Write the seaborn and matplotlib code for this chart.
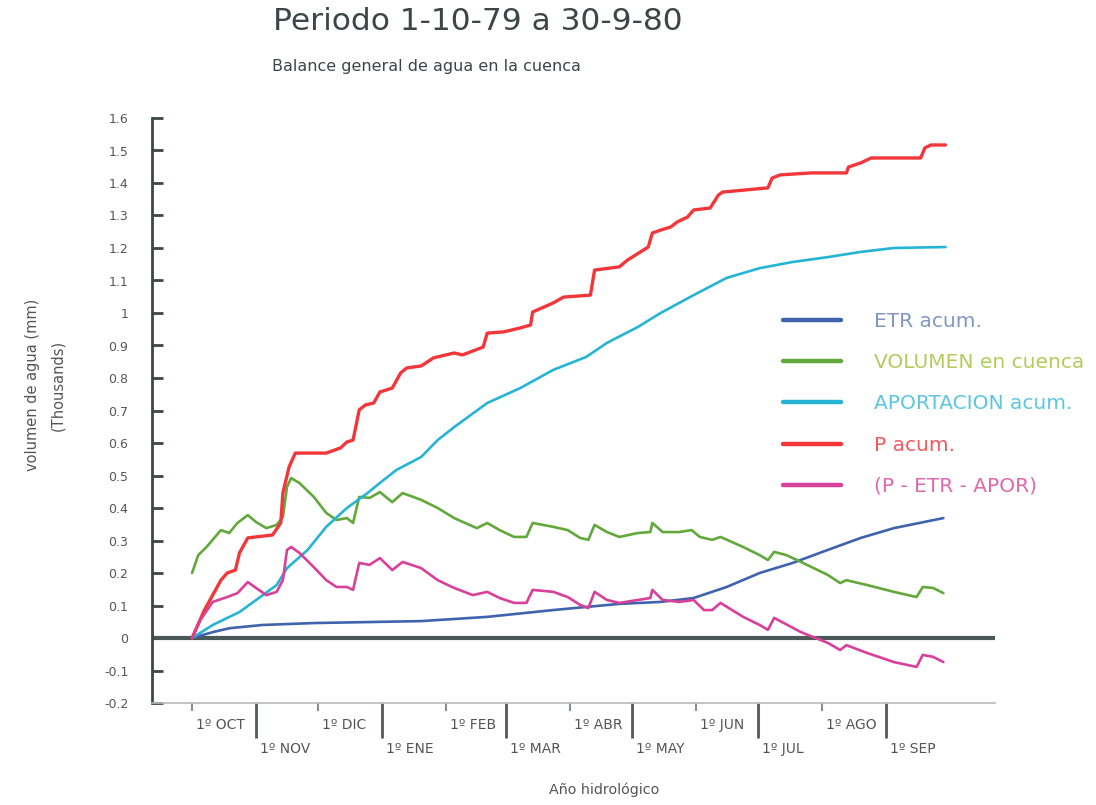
import pandas as pd
import matplotlib
matplotlib.use("Agg")
import matplotlib.pyplot as plt
import matplotlib.dates as mdates
import matplotlib.transforms as mtransforms
import seaborn as sns

sns.set_style("white")
plt.rcParams["font.family"] = ["DejaVu Sans"]

start = pd.Timestamp("1979-10-01")

# days counted from 1-10-79, values in thousands of mm
etr_days = [0, 10, 18, 34, 59, 111, 143, 175, 207, 227, 243, 259, 275, 291, 308, 324, 340, 364]
etr_vals = [0, 0.018, 0.030, 0.040, 0.046, 0.052, 0.065, 0.086, 0.105, 0.111, 0.123, 0.157,
            0.200, 0.231, 0.271, 0.308, 0.338, 0.369]

vol_days = [0, 3, 7, 14, 18, 22, 27, 31, 36, 41, 44, 46, 48, 52, 59, 65, 70, 75, 78, 81,
            86, 91, 97, 102, 111, 119, 127, 138, 143, 149, 156, 162, 165, 175, 182, 188, 192,
            195, 201, 207, 216, 222, 223, 228, 236, 242, 246, 252, 256, 267, 275, 279, 282,
            288, 295, 308, 314, 317, 327, 340, 351, 354, 359, 364]
vol_vals = [0.200, 0.255, 0.280, 0.332, 0.323, 0.354, 0.378, 0.357, 0.338, 0.348, 0.372,
            0.465, 0.492, 0.477, 0.434, 0.385, 0.363, 0.369, 0.354, 0.434, 0.431, 0.449,
            0.418, 0.446, 0.425, 0.400, 0.369, 0.338, 0.354, 0.332, 0.311, 0.311, 0.354,
            0.342, 0.332, 0.308, 0.302, 0.348, 0.326, 0.311, 0.323, 0.326, 0.354, 0.326,
            0.326, 0.332, 0.311, 0.302, 0.311, 0.280, 0.255, 0.240, 0.265, 0.255, 0.234,
            0.194, 0.169, 0.178, 0.163, 0.142, 0.126, 0.157, 0.154, 0.138]

apor_days = [0, 10, 23, 33, 41, 46, 56, 65, 75, 85, 91, 99, 111, 119, 127, 143, 159, 175,
             191, 201, 216, 227, 243, 259, 275, 291, 308, 324, 340, 365]
apor_vals = [0, 0.040, 0.080, 0.126, 0.163, 0.215, 0.271, 0.342, 0.400, 0.446, 0.477, 0.517,
             0.557, 0.609, 0.649, 0.723, 0.769, 0.825, 0.865, 0.908, 0.957, 1.000, 1.055,
             1.108, 1.138, 1.157, 1.172, 1.188, 1.200, 1.203]

p_days = [0, 6, 14, 17, 21, 23, 27, 31, 39, 43, 44, 47, 50, 65, 72, 75, 78, 81, 84, 88, 91,
          97, 101, 104, 111, 117, 127, 131, 141, 143, 151, 159, 164, 165, 175, 180, 193, 195,
          207, 211, 221, 223, 227, 232, 235, 240, 243, 251, 255, 257, 267, 279, 281, 285, 300,
          317, 318, 324, 329, 353, 355, 358, 365]
p_vals = [0, 0.086, 0.178, 0.200, 0.209, 0.262, 0.308, 0.311, 0.317, 0.354, 0.446, 0.526,
          0.569, 0.569, 0.585, 0.603, 0.609, 0.702, 0.717, 0.723, 0.757, 0.769, 0.815, 0.831,
          0.837, 0.862, 0.877, 0.871, 0.895, 0.938, 0.942, 0.954, 0.963, 1.003, 1.031, 1.049,
          1.055, 1.132, 1.142, 1.163, 1.203, 1.246, 1.255, 1.265, 1.280, 1.295, 1.317, 1.323,
          1.363, 1.372, 1.378, 1.385, 1.415, 1.425, 1.431, 1.431, 1.449, 1.462, 1.477, 1.477,
          1.508, 1.517, 1.517]

bal_days = [0, 4, 10, 17, 22, 27, 31, 36, 41, 44, 46, 48, 52, 59, 65, 70, 75, 78, 81, 86,
            91, 97, 102, 111, 119, 127, 136, 143, 149, 156, 162, 165, 175, 182, 188, 192, 195,
            201, 207, 216, 222, 223, 228, 236, 243, 248, 252, 256, 267, 275, 279, 282, 295,
            308, 314, 317, 327, 340, 351, 354, 359, 364]
bal_vals = [0, 0.055, 0.111, 0.126, 0.138, 0.172, 0.154, 0.132, 0.142, 0.178, 0.271, 0.280,
            0.262, 0.218, 0.178, 0.157, 0.157, 0.148, 0.231, 0.225, 0.246, 0.209, 0.234,
            0.215, 0.178, 0.154, 0.132, 0.142, 0.123, 0.108, 0.108, 0.148, 0.142, 0.126,
            0.102, 0.092, 0.142, 0.117, 0.108, 0.117, 0.123, 0.148, 0.117, 0.111, 0.117,
            0.086, 0.086, 0.108, 0.065, 0.040, 0.025, 0.062, 0.018, -0.015, -0.037, -0.022,
            -0.046, -0.074, -0.089, -0.052, -0.058, -0.074]

names = ["ETR acum.", "VOLUMEN en cuenca", "APORTACION acum.", "P acum.", "(P - ETR - APOR)"]
line_colors = ["#3f63ad", "#62a83a", "#25b4d6", "#f2363a", "#d8409a"]
text_colors = ["#8296c4", "#b2cc5c", "#5cc6e2", "#f25a5e", "#e068ac"]

month_major = ["1979-10-01", "1979-12-01", "1980-02-01", "1980-04-01", "1980-06-01", "1980-08-01"]
labels_major = ["1º OCT", "1º DIC", "1º FEB", "1º ABR", "1º JUN", "1º AGO"]
month_minor = ["1979-11-01", "1980-01-01", "1980-03-01", "1980-05-01", "1980-07-01", "1980-09-01"]
labels_minor = ["1º NOV", "1º ENE", "1º MAR", "1º MAY", "1º JUL", "1º SEP"]

y_ticks = [-0.2, -0.1, 0, 0.1, 0.2, 0.3, 0.4, 0.5, 0.6, 0.7, 0.8, 0.9, 1, 1.1, 1.2, 1.3, 1.4, 1.5, 1.6]
y_labels = ["-0.2", "-0.1", "0", "0.1", "0.2", "0.3", "0.4", "0.5", "0.6", "0.7", "0.8", "0.9",
            "1", "1.1", "1.2", "1.3", "1.4", "1.5", "1.6"]

frames = []
for name, d, v in zip(names,
                      [etr_days, vol_days, apor_days, p_days, bal_days],
                      [etr_vals, vol_vals, apor_vals, p_vals, bal_vals]):
    frames.append(pd.DataFrame({"Fecha": start + pd.to_timedelta(d, unit="D"),
                                "Valor": v, "Serie": name}))
df = pd.concat(frames, ignore_index=True)

fig = plt.figure(figsize=(10.96, 8.05), dpi=100)
ax = fig.add_axes([152 / 1096, 1 - 703 / 805, (995 - 152) / 1096, (703 - 118) / 805])

ax.axhline(0, color="#4b5858", lw=3, zorder=1)
sns.lineplot(data=df, x="Fecha", y="Valor", hue="Serie", hue_order=names,
             palette=dict(zip(names, line_colors)), ax=ax, lw=1.9, zorder=3,
             estimator=None, sort=False)
for line in ax.get_lines():
    if line.get_color() == "#f2363a":
        line.set_linewidth(2.4)

ax.set_ylim(-0.2, 1.6)
ax.set_xlim(mdates.date2num(start - pd.Timedelta(days=19.4)),
            mdates.date2num(start + pd.Timedelta(days=389)))
ax.set_yticks(y_ticks)
ax.set_yticklabels(y_labels)
ax.tick_params(axis="y", direction="in", length=8, width=2, color="#3d4848",
               labelcolor="#555555", labelsize=9, pad=17, left=True)

ax.set_xticks([mdates.date2num(pd.Timestamp(m)) for m in month_major])
ax.set_xticklabels(labels_major)
ax.set_xticks([mdates.date2num(pd.Timestamp(m)) for m in month_minor], minor=True)
ax.set_xticklabels(labels_minor, minor=True)
ax.tick_params(axis="x", which="major", direction="out", length=6, width=1.5,
               color="#8a9090", labelcolor="#555555", labelsize=10, pad=5, bottom=True)
ax.tick_params(axis="x", which="minor", direction="out", length=25, width=2,
               color="#505a5a", labelcolor="#555555", labelsize=10, pad=3, bottom=True)
shift = mtransforms.ScaledTranslation(3 / 72, 0, fig.dpi_scale_trans)
for lbl in ax.get_xticklabels() + ax.get_xticklabels(minor=True):
    lbl.set_horizontalalignment("left")
    lbl.set_transform(lbl.get_transform() + shift)

ax.set_xlabel("")
ax.set_ylabel("")
for s in ["top", "right"]:
    ax.spines[s].set_visible(False)
ax.spines["left"].set_color("#3d4848")
ax.spines["left"].set_linewidth(2)
ax.spines["bottom"].set_color("#b5bcbc")
ax.spines["bottom"].set_linewidth(1.2)

leg = ax.legend(loc="upper left", bbox_to_anchor=(765 / 1096, 1 - 294 / 805),
                bbox_transform=fig.transFigure, frameon=False, fontsize=14.5,
                labelspacing=1.1, handlelength=2.85, handletextpad=1.65)
for h in leg.get_lines():
    h.set_linewidth(3.2)
for t, c in zip(leg.get_texts(), text_colors):
    t.set_color(c)

fig.text(273 / 1096, 1 - 22 / 805, "Periodo 1-10-79 a 30-9-80", fontsize=22.5,
         color="#3c4646", va="center", ha="left")
fig.text(272 / 1096, 1 - 66 / 805, "Balance general de agua en la cuenca", fontsize=11.5,
         color="#3c4646", va="center", ha="left")
fig.text(33 / 1096, 1 - 385 / 805, "volumen de agua (mm)", fontsize=10.5, color="#555555",
         rotation=90, va="center", ha="center")
fig.text(58 / 1096, 1 - 385 / 805, "(Thousands)", fontsize=10.5, color="#555555",
         rotation=90, va="center", ha="center")
fig.text(604 / 1096, 1 - 790 / 805, "Año hidrológico", fontsize=10.3, color="#555555",
         va="center", ha="center")

fig.savefig("out.png", dpi=100)
